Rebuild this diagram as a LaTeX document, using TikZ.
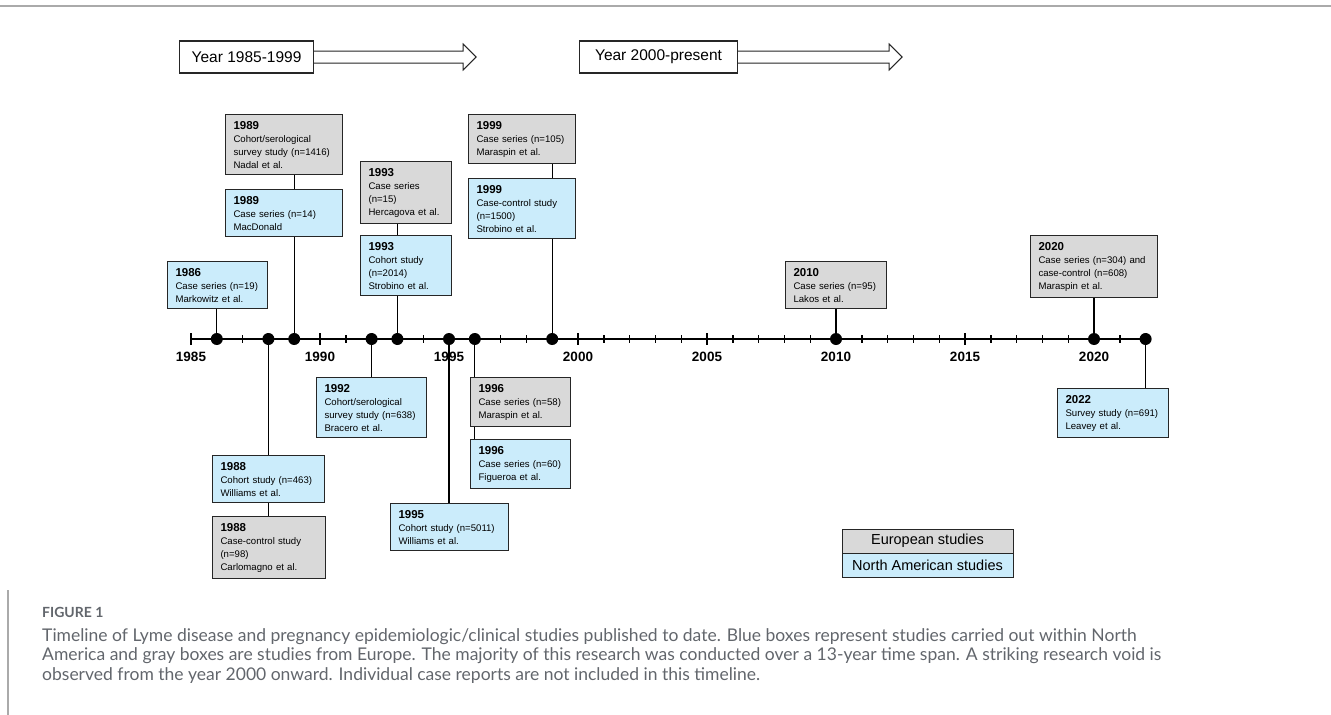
\documentclass[tikz,border=0pt]{standalone}
\usepackage{fontspec}
\setmainfont{Liberation Sans}
\newfontfamily\capfont{Lato}
\usetikzlibrary{positioning}
\definecolor{EuGray}{RGB}{217, 217, 217}
\definecolor{NaBlue}{RGB}{203, 236, 251}
\definecolor{CapGray}{RGB}{98, 102, 108}
\definecolor{RuleGray}{RGB}{170, 170, 170}
\newcommand{\yr}[1]{{\fontsize{11.5}{13}\selectfont\bfseries #1}}

\begin{document}
\begin{tikzpicture}[x=1pt, y=-1pt,
    study/.style={draw=black!85, line width=1.1pt, anchor=north west, align=left, inner xsep=8pt, inner ysep=6.5pt, font=\fontsize{9.6}{13}\selectfont},
    eu study/.style={study, fill=EuGray},
    na study/.style={study, fill=NaBlue},
    event/.style={circle, fill=black, inner sep=0pt, minimum size=12pt},
    link/.style={line width=1.1pt},
    axis/.style={line width=1.8pt},
    period/.style={draw=black!85, line width=1.1pt, anchor=west, minimum height=32pt, font=\fontsize{15.5}{18}\selectfont},
    hollow/.style={draw=black!85, line width=1pt, fill=white, line join=miter},
    legend/.style={draw=black!85, line width=1pt, minimum width=171pt, minimum height=24pt, font=\fontsize{14.5}{16}\selectfont},
    font=\fontsize{9.6}{13}\selectfont
    ]
    \useasboundingbox (0,0) rectangle (1331,715);

    % frame lines
    \draw[RuleGray, line width=1.5pt] (0,6) -- (1331,6);
    \draw[RuleGray, line width=1.2pt] (8,590) -- (8,715);

    % period arrows
    \node[period, minimum width=134pt] (per1) at (179,57) {Year 1985-1999};
    \draw[hollow] ([yshift=6pt]per1.east) -- ++(149,0) -- ++(0,-7) -- ++(13,13) -- ++(-13,13) -- ++(0,-7) -- ([yshift=-6pt]per1.east);
    \node[period, minimum width=158pt] (per2) at (579,57) {Year 2000-present};
    \draw[hollow] ([yshift=6pt]per2.east) -- ++(151,0) -- ++(0,-7) -- ++(13,13) -- ++(-13,13) -- ++(0,-7) -- ([yshift=-6pt]per2.east);

    % time axis
    \foreach \yy in {1986,1988,1989,1992,1993,1995,1996,1999,2010,2020,2022}
        \coordinate (p\yy) at ({191+25.8*(\yy-1985)},339);
    \coordinate (a0) at (191,339);
    \draw[axis] (a0) -- (p2022);
    \foreach \i in {0,...,37} {
        \pgfmathsetmacro\th{mod(\i,5)==0 ? 6 : 4}
        \draw[line width=1.4pt] ({191+25.8*\i},{339-\th}) -- ({191+25.8*\i},{339+\th});
    }
    \foreach \yy in {1985,1990,...,2020}
        \node[font=\fontsize{13.5}{15}\selectfont\bfseries] (l\yy) at ({191+25.8*(\yy-1985)},357) {\yy};

    % studies above the axis
    \node[eu study, text width=101pt] (g1989) at (225,114) {\yr{1989}\\Cohort/serological\\survey study (n=1416)\\Nadal et al.};
    \node[na study, text width=101pt] (b1989) at (225,189) {\yr{1989}\\Case series (n=14)\\MacDonald};
    \node[na study, text width=84pt] (b1986) at (167,261) {\yr{1986}\\Case series (n=19)\\Markowitz et al.};
    \node[eu study, text width=75pt] (g1993) at (360,161) {\yr{1993}\\Case series\\(n=15)\\Hercagova et al.};
    \node[na study, text width=75pt] (b1993) at (360,235) {\yr{1993}\\Cohort study\\(n=2014)\\Strobino et al.};
    \node[eu study, text width=91pt] (g1999) at (468,114) {\yr{1999}\\Case series (n=105)\\Maraspin et al.};
    \node[na study, text width=91pt] (b1999) at (468,178) {\yr{1999}\\Case-control study\\(n=1500)\\Strobino et al.};
    \node[eu study, text width=85pt] (g2010) at (785,261) {\yr{2010}\\Case series (n=95)\\Lakos et al.};
    \node[eu study, text width=111pt] (g2020) at (1030,235) {\yr{2020}\\Case series (n=304) and\\case-control (n=608)\\Maraspin et al.};

    % studies below the axis
    \node[na study, text width=94pt] (b1992) at (316,377) {\yr{1992}\\Cohort/serological\\survey study (n=638)\\Bracero et al.};
    \node[eu study, text width=84pt] (g1996) at (470,377) {\yr{1996}\\Case series (n=58)\\Maraspin et al.};
    \node[na study, text width=84pt] (b1996) at (470,439) {\yr{1996}\\Case series (n=60)\\Figueroa et al.};
    \node[na study, text width=95pt] (b2022) at (1057,388) {\yr{2022}\\Survey study (n=691)\\Leavey et al.};
    \node[na study, text width=96pt] (b1988) at (212,455) {\yr{1988}\\Cohort study (n=463)\\Williams et al.};
    \node[eu study, text width=97pt] (g1988) at (212,516) {\yr{1988}\\Case-control study\\(n=98)\\Carlomagno et al.};
    \node[na study, text width=102pt] (b1995) at (390,503) {\yr{1995}\\Cohort study (n=5011)\\Williams et al.};

    % event dots
    \foreach \yy in {1986,1988,1989,1992,1993,1995,1996,1999,2010,2020,2022}
        \node[event] (d\yy) at (p\yy) {};

    % connectors
    \draw[link] (g1989.south -| d1989) -- (b1989.north -| d1989);
    \draw[link] (b1989.south -| d1989) -- (d1989);
    \draw[link] (b1986.south -| d1986) -- (d1986);
    \draw[link] (g1993.south -| d1993) -- (b1993.north -| d1993);
    \draw[link] (b1993.south -| d1993) -- (d1993);
    \draw[link] (g1999.south -| d1999) -- (b1999.north -| d1999);
    \draw[link] (b1999.south -| d1999) -- (d1999);
    \draw[link] (g2010.south -| d2010) -- (d2010);
    \draw[link] (g2020.south -| d2020) -- (d2020);
    \draw[link] (d1992) -- (d1992 |- b1992.north);
    \draw[link] (d1996) -- (d1996 |- g1996.north);
    \draw[link] (g1996.south -| d1996) -- (b1996.north -| d1996);
    \draw[link] (d2022) -- (d2022 |- b2022.north);
    \draw[link] (d1988) -- (d1988 |- b1988.north);
    \draw[link] (b1988.south -| d1988) -- (g1988.north -| d1988);
    \draw[link] (d1995) -- (d1995 |- b1995.north);

    % legend
    \node[legend, fill=EuGray] (eu) at (927.5,541) {European studies};
    \node[legend, fill=NaBlue, below=-1pt of eu] (na) {North American studies};

    % caption
    \node[anchor=west, inner sep=0pt, text=CapGray, font=\capfont\bfseries\fontsize{14}{16}\selectfont] (figlabel) at (42,612) {FIGURE 1};
    \node[anchor=north west, align=left, inner sep=0pt, text=CapGray, font=\capfont\fontsize{17.5}{19.5}\selectfont] (caption) at (42,628) {Timeline of Lyme disease and pregnancy epidemiologic/clinical studies published to date. Blue boxes represent studies carried out within North\\America and gray boxes are studies from Europe. The majority of this research was conducted over a 13-year time span. A striking research void is\\observed from the year 2000 onward. Individual case reports are not included in this timeline.};
\end{tikzpicture}
\end{document}
